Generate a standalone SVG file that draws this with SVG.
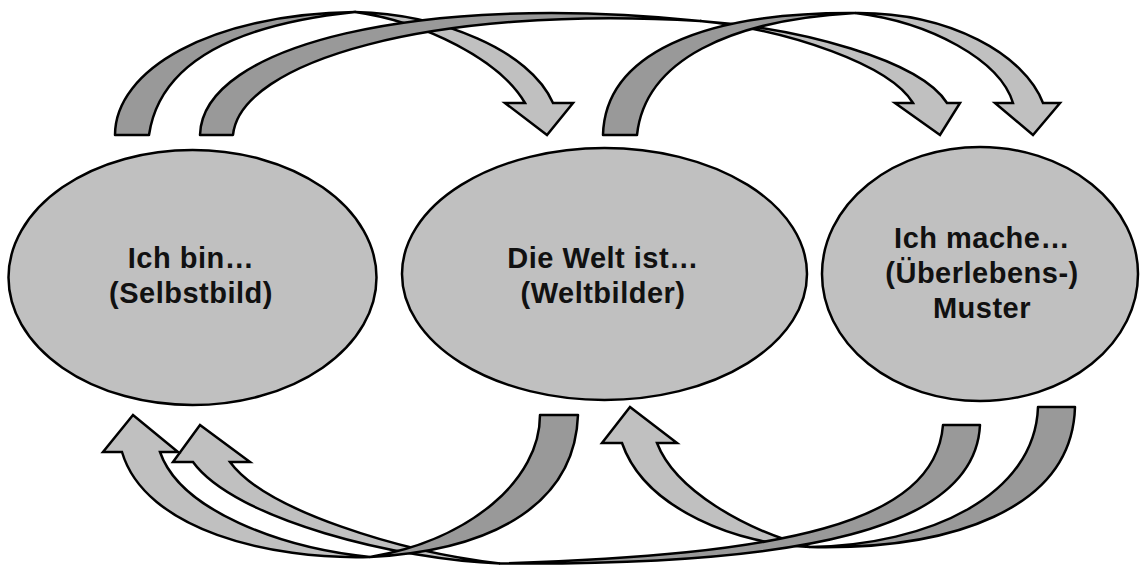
<svg xmlns="http://www.w3.org/2000/svg" width="1141" height="566" viewBox="0 0 1141 566">
  <style>
    .node ellipse { fill: #c0c0c0; stroke: #000; stroke-width: 2.5; }
    .node text { font-family: "Liberation Sans", Arial, sans-serif; font-weight: bold; font-size: 29px; letter-spacing: 0.5px; fill: #111; text-anchor: middle; }
    .back { fill: #999999; stroke: #000; stroke-width: 2.5; stroke-linejoin: round; }
    .front { fill: #c0c0c0; stroke: #000; stroke-width: 2.5; stroke-linejoin: miter; }
  </style>
  <rect width="1141" height="566" fill="#fff"/>

  <!-- Nodes -->
  <g id="node-selbstbild" class="node">
    <ellipse cx="192.5" cy="277.5" rx="184" ry="127.5"/>
    <text x="191" y="268">Ich bin…</text>
    <text x="191" y="303">(Selbstbild)</text>
  </g>
  <g id="node-weltbilder" class="node">
    <ellipse cx="604.5" cy="274" rx="202.5" ry="126"/>
    <text x="603" y="268">Die Welt ist…</text>
    <text x="603" y="303">(Weltbilder)</text>
  </g>
  <g id="node-muster" class="node">
    <ellipse cx="980" cy="274" rx="158" ry="127"/>
    <text x="982" y="248">Ich mache…</text>
    <text x="982" y="283">(Überlebens-)</text>
    <text x="982" y="318">Muster</text>
  </g>

  <!-- Connectors: curved ribbon arrows, darker back face at the tail, lighter front face at the head -->
  <g id="connectors">
    <!-- Ich bin -> Die Welt (over the top) -->
    <g id="arrow-selbst-welt">
      <path class="back" d="M115,135 C115,70 210,14 355,12 C240,24 160,60 149,135 Z"/>
      <path class="front" d="M355,12 C440,14 530,50 553,103 L573,103 L547,135 L505,103 L525,103 C500,60 425,22 355,12 Z"/>
    </g>
    <!-- Ich bin -> Ich mache (long, over the top) -->
    <g id="arrow-selbst-muster">
      <path class="back" d="M200,135 C202,45 420,-8 700,21 C430,5 240,62 233,135 Z"/>
      <path class="front" d="M700,21 C800,28 920,60 947,103 L960,103 L940,135 L895,103 L913,103 C890,65 790,30 700,21 Z"/>
    </g>
    <!-- Die Welt -> Ich mache (over the top) -->
    <g id="arrow-welt-muster">
      <path class="back" d="M603,135 C605,55 700,12 855,13 C730,20 645,60 637,135 Z"/>
      <path class="front" d="M855,13 C950,12 1025,55 1043,103 L1060,103 L1033,135 L995,103 L1013,103 C1000,60 930,22 855,13 Z"/>
    </g>

    <!-- Ich mache -> Die Welt (underneath) -->
    <g id="arrow-muster-welt">
      <path class="back" d="M1038,407 L1075,407 C1072,510 950,550 810,547 C930,545 1035,495 1038,407 Z"/>
      <path class="front" d="M810,547 C740,545 645,510 622,443 L602,443 L630,407 L677,443 L657,443 C675,490 745,530 810,547 Z"/>
    </g>
    <!-- Ich mache -> Ich bin (long, underneath) -->
    <g id="arrow-muster-selbst">
      <path class="back" d="M943,425 L980,425 C975,530 800,566 500,563.5 C780,555 935,525 943,425 Z"/>
      <path class="front" d="M500,563.5 C400,560 235,520 193,462 L173,462 L200,425 L250,462 L230,462 C265,510 400,552 500,563.5 Z"/>
    </g>
    <!-- Die Welt -> Ich bin (underneath) -->
    <g id="arrow-welt-selbst">
      <path class="back" d="M540,415 L578,415 C575,500 500,550 370,557 C470,540 540,480 540,415 Z"/>
      <path class="front" d="M370,557 C270,560 145,530 122,452 L103,452 L133,415 L178,452 L160,452 C180,510 280,548 370,557 Z"/>
    </g>
  </g>
</svg>
